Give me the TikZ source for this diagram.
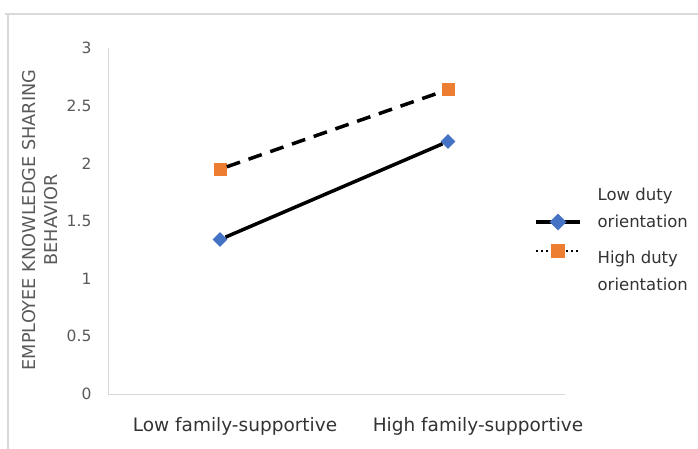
\documentclass[tikz,border=0pt]{standalone}
\usepackage{fontspec}
\setmainfont{DejaVu Sans}
\usetikzlibrary{positioning}
\usetikzlibrary{shapes.geometric}
\definecolor{dutyblue}{HTML}{4472C4}
\definecolor{dutyorange}{HTML}{ED7D31}
\definecolor{axisgrey}{HTML}{D9D9D9}
\definecolor{labelgrey}{HTML}{595959}

\begin{document}
\begin{tikzpicture}[
            x = 1pt, y = -1pt, % one unit per pixel, downwards
            semithick
        ]

        \tikzstyle{lowpt}=[diamond, fill = dutyblue, inner sep = 0pt, minimum size = 15pt]
        \tikzstyle{highpt}=[rectangle, fill = dutyorange, inner sep = 0pt, minimum size = 13pt]
        \tikzstyle{ticklab}=[anchor = east, text = labelgrey, font = \fontsize{15.5}{18}\selectfont]
        \tikzstyle{catlab}=[text = black!80, font = \fontsize{18.5}{22}\selectfont]
        \tikzstyle{legtext}=[anchor = west, align = left, text = black!80, font = \fontsize{16.5}{27}\selectfont]

        \useasboundingbox (0,0) rectangle (698,449);

	% frame
        \draw[axisgrey, line width = 1.5pt] (5,14) -- (698,14);
        \draw[axisgrey, line width = 1.5pt] (8,14) -- (8,449);

	% axes
        \coordinate (O) at (108,394);
        \coordinate (YT) at (108,48);
        \coordinate (XE) at (565,394);
        \draw[axisgrey, line width = 1pt] (YT) -- (O) -- (XE);

        \foreach \v in {0,0.5,1,1.5,2,2.5,3}
            \node[ticklab] (T\v) at (95,{394-115.3*\v}) {\v};

        \node[catlab] (CL) at (235,426) {Low family-supportive};
        \node[catlab] (CH) at (478,426) {High family-supportive};

        \node[text = labelgrey, rotate = 90, align = center, font = \fontsize{17.7}{22}\selectfont]
            (YL) at (40,220) {EMPLOYEE KNOWLEDGE SHARING\\BEHAVIOR};

	% high duty orientation
        \node[highpt] (H1) at (220,{394-115.3*1.95}) {};
        \node[highpt] (H2) at (448,{394-115.3*2.64}) {};
        \draw[line width = 3.5pt, dash pattern = on 14pt off 9pt] (H1) -- (H2);

	% low duty orientation
        \node[lowpt] (L1) at (220,{394-115.3*1.34}) {};
        \node[lowpt] (L2) at (448,{394-115.3*2.19}) {};
        \draw[line width = 3.5pt] (L1) -- (L2);

	% legend
        \coordinate (LA) at (536,222);
        \coordinate (LB) at (580,222);
        \draw[line width = 3.5pt] (LA) -- (LB);
        \node[lowpt, minimum size = 17pt] (LM) at (558,222) {};
        \node[legtext] (LT) at (594,208) {Low duty\\orientation};

        \coordinate (HA) at (536,251);
        \coordinate (HB) at (580,251);
        \draw[line width = 2pt, dash pattern = on 2pt off 3pt] (HA) -- (HB);
        \node[highpt, minimum size = 14pt] (HM) at (558,251) {};
        \node[legtext] (HT) at (594,271) {High duty\\orientation};

  \end{tikzpicture}
\end{document}
